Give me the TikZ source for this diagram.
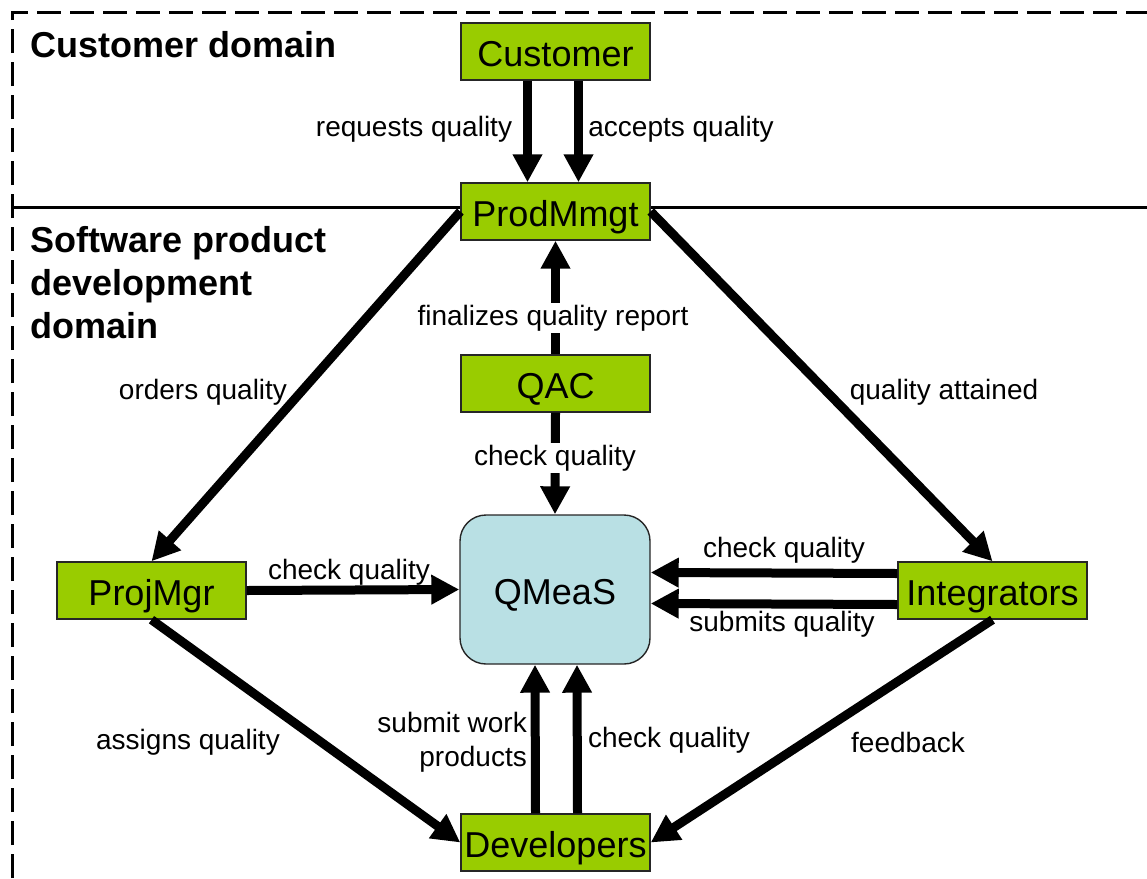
\documentclass[tikz,border=0pt]{standalone}
\usepackage{fontspec}
\setmainfont{Liberation Sans}
\usetikzlibrary{arrows.meta}
\definecolor{boxgreen}{HTML}{99CC00}
\definecolor{boxblue}{HTML}{B9E0E4}
\begin{document}
\begin{tikzpicture}[x=1pt,y=-1pt,
  box/.style={draw=black!85,line width=1.4pt,fill=boxgreen,minimum width=189pt,minimum height=57pt,inner sep=0pt,text height=29pt,text depth=0pt,font=\fontsize{36}{43}\selectfont},
  arr/.style={line width=9pt,-{Triangle[length=28pt,width=28pt]}},
  lab/.style={font=\fontsize{28}{34}\selectfont,inner sep=2pt},
  wlab/.style={lab,fill=white},
  title/.style={font=\bfseries\fontsize{36}{43}\selectfont,inner sep=0pt,align=left},
  border/.style={line width=3pt,dash pattern=on 24pt off 9pt}
]
\useasboundingbox (0,0) rectangle (1147,878);
% frame
\draw[border] (12,878) -- (12,12) -- (1147,12);
\draw[line width=3pt] (12,207) -- (1147,207);
% titles
\node[title,anchor=west] (t1) at (30,45) {Customer domain};
\node[title,anchor=north west] (t2) at (30,226) {Software product\\development\\domain};
% boxes
\node[box] (cust) at (555.5,51.5) {Customer};
\node[box] (prod) at (555.5,211.5) {ProdMmgt};
\node[box] (qac) at (555.5,383.5) {QAC};
\node[box,fill=boxblue,minimum width=190pt,minimum height=149pt,rounded corners=26pt] (qm) at (555,589.5) {QMeaS};
\node[box] (pm) at (151.5,590.5) {ProjMgr};
\node[box] (int) at (992.5,590.5) {Integrators};
\node[box] (dev) at (555.5,842.5) {Developers};
% arrows
\draw[arr] ([xshift=-28pt]cust.south) -- ([xshift=-28pt]prod.north);
\draw[arr] ([xshift=23pt]cust.south) -- ([xshift=23pt]prod.north);
\draw[arr] (qac.north) -- (prod.south);
\draw[arr] (qac.south) -- (qm.north);
\draw[arr] (prod.west) -- (pm.north);
\draw[arr] (prod.east) -- (int.north);
\draw[arr] (pm.east) -- (qm.west);
\draw[arr] ([yshift=17pt]int.west) -- ([yshift=17pt]qm.east);
\draw[arr] ([yshift=-14pt]int.west) -- ([yshift=-14pt]qm.east);
\draw[arr] (pm.south) -- (dev.west);
\draw[arr] (int.south) -- (dev.east);
\draw[arr] ([xshift=-20pt]dev.north) -- ([xshift=-20pt]qm.south);
\draw[arr] ([xshift=22pt]dev.north) -- ([xshift=22pt]qm.south);
% labels
\node[lab] (l1) at (414,129) {requests quality};
\node[lab] (l2) at (681,129) {accepts quality};
\node[wlab] (l3) at (553,318) {finalizes quality report};
\node[wlab] (l4) at (555,458) {check quality};
\node[lab] (l5) at (203,392) {orders quality};
\node[lab] (l6) at (944,392) {quality attained};
\node[lab] (l7) at (349,572) {check quality};
\node[lab] (l8) at (784,550) {check quality};
\node[lab] (l9) at (782,624) {submits quality};
\node[lab] (l10) at (188,742) {assigns quality};
\node[lab,align=right,anchor=east] (l11) at (529,742) {submit work\\products};
\node[lab] (l12) at (669,740) {check quality};
\node[lab] (l13) at (908,742) {feedback};
\end{tikzpicture}
\end{document}
